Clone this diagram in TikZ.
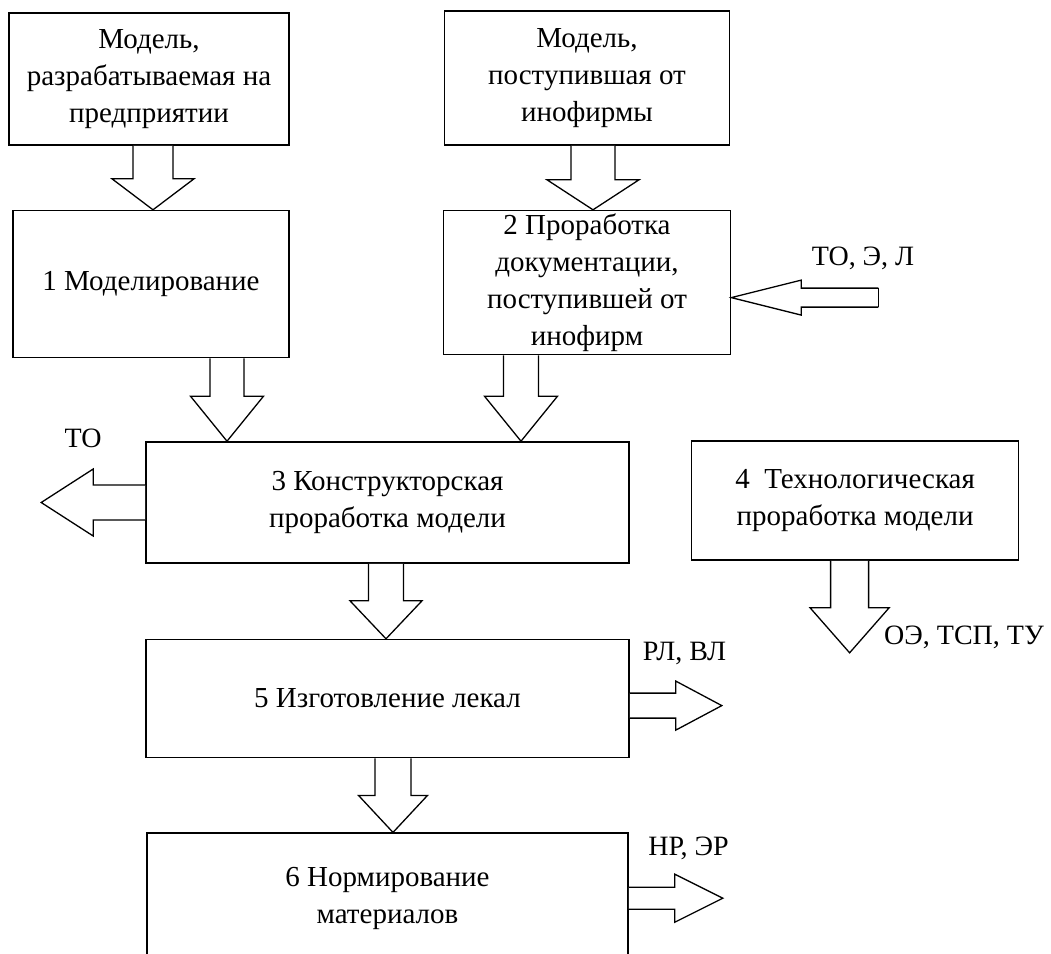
\documentclass[tikz,border=0pt]{standalone}
\usepackage{fontspec}
\setmainfont{Liberation Serif}
\usetikzlibrary{positioning,calc}

% hollow block arrow: tail, tip, shaft half-width, head half-width, head length
\newcommand{\bigarrow}[5]{%
  \coordinate (hb) at ($(#2)!#5!(#1)$);
  \draw[hollow] ($(#1)!#3!90:(#2)$) -- ($(hb)!#3!90:(#2)$) -- ($(hb)!#4!90:(#2)$) -- (#2)
      -- ($(hb)!#4!-90:(#2)$) -- ($(hb)!#3!-90:(#2)$) -- ($(#1)!#3!-90:(#2)$);
}

\begin{document}
\begin{tikzpicture}[x=1pt,y=-1pt,
    box/.style={draw,line width=1.6pt,align=center,inner sep=0pt,font=\fontsize{29}{37}\selectfont},
    lbl/.style={inner sep=0pt,font=\fontsize{28}{34}\selectfont},
    hollow/.style={draw,fill=white,line width=1.3pt}]
    \clip (0,0) rectangle (1051,953);

    % sources
    \node[box,minimum width=280pt,minimum height=132pt] (modA) at (149,79)
        {Модель,\\разрабатываемая на\\предприятии};
    \node[box,minimum width=285pt,minimum height=134pt] (modB) at (587,78)
        {Модель,\\поступившая от\\инофирмы};

    % stages
    \node[box,minimum width=276pt,minimum height=147pt,below=64pt of modA,xshift=2pt] (mod1)
        {1 Моделирование};
    \node[box,minimum width=287pt,minimum height=144pt,below=64pt of modB] (mod2)
        {2 Проработка\\документации,\\поступившей от\\инофирм};
    \node[box,minimum width=483pt,minimum height=121pt] (mod3) at (387.5,502.5)
        {3 Конструкторская\\проработка модели};
    \node[box,minimum width=327pt,minimum height=119pt,right=61pt of mod3,yshift=2pt] (mod4)
        {4~ Технологическая\\проработка модели};
    \node[box,minimum width=483pt,minimum height=118pt,below=75pt of mod3] (mod5)
        {5 Изготовление лекал};
    \node[box,minimum width=481pt,minimum height=130pt,below=74pt of mod5] (mod6)
        {6 Нормирование\\материалов};

    % arrow ends
    \coordinate (tA) at ($(modA.south)+(4,0)$);
    \coordinate (hA) at (tA |- mod1.north);
    \coordinate (tB) at ($(modB.south)+(6,0)$);
    \coordinate (hB) at (tB |- mod2.north);
    \coordinate (t1) at ($(mod1.south)+(76,0)$);
    \coordinate (h1) at (t1 |- mod3.north);
    \coordinate (t2) at ($(mod2.south)+(-66,0)$);
    \coordinate (h2) at (t2 |- mod3.north);
    \coordinate (t3) at ($(mod3.south)+(-1.5,0)$);
    \coordinate (h3) at (t3 |- mod5.north);
    \coordinate (t5) at ($(mod5.south)+(5.5,0)$);
    \coordinate (h5) at (t5 |- mod6.north);
    \coordinate (t4) at ($(mod4.south)+(-5.5,0)$);
    \coordinate (h4) at ($(t4)+(0,92)$);
    \coordinate (hTO) at ($(mod3.west)+(-104,0)$);
    \coordinate (h2in) at ($(mod2.east)+(0,15)$);
    \coordinate (t2in) at ($(h2in)+(147,0)$);
    \coordinate (tRL) at ($(mod5.east)+(0,7)$);
    \coordinate (hRL) at ($(tRL)+(92,0)$);
    \coordinate (hNR) at ($(mod6.east)+(94,0)$);

    \bigarrow{tA}{hA}{20pt}{41pt}{31pt}
    \bigarrow{tB}{hB}{22pt}{46pt}{30pt}
    \bigarrow{t1}{h1}{17pt}{36.5pt}{45pt}
    \bigarrow{t2}{h2}{17.5pt}{36.5pt}{45pt}
    \bigarrow{t3}{h3}{17.5pt}{36pt}{38pt}
    \bigarrow{t5}{h5}{18pt}{34.5pt}{37pt}
    \bigarrow{t4}{h4}{19pt}{39.5pt}{45pt}
    \bigarrow{mod3.west}{hTO}{17.5pt}{33.5pt}{52pt}
    \bigarrow{t2in}{h2in}{9.5pt}{17.5pt}{70pt}
    \draw[line width=1.3pt] ($(t2in)!9.5pt!90:(h2in)$) -- ($(t2in)!9.5pt!-90:(h2in)$);
    \bigarrow{tRL}{hRL}{12.5pt}{24.5pt}{46pt}
    \bigarrow{mod6.east}{hNR}{11pt}{24pt}{48pt}

    % outputs
    \node[lbl] (lTO) at (83,438) {ТО};
    \node[lbl] (lTEL) at (863,258) {ТО, Э, Л};
    \node[lbl] (lOE) at (964,637) {ОЭ, ТСП, ТУ};
    \node[lbl] (lRL) at (684.5,653) {РЛ, ВЛ};
    \node[lbl] (lNR) at (688.5,848) {НР, ЭР};
\end{tikzpicture}
\end{document}
